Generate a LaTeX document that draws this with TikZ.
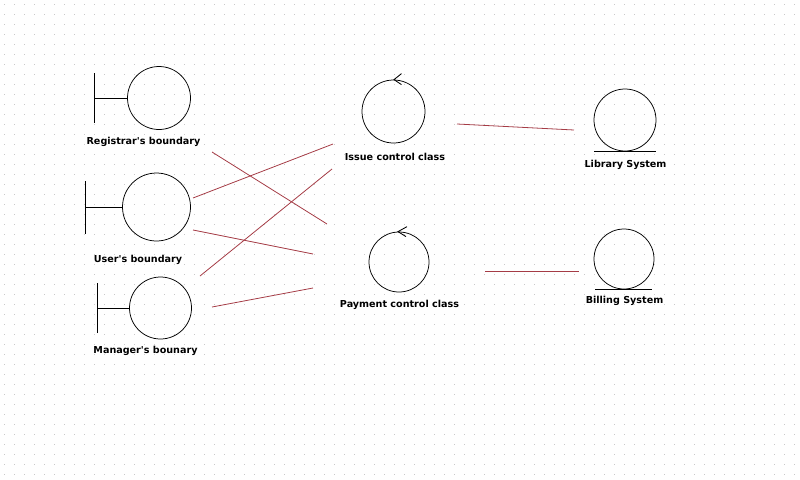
\documentclass[tikz,border=0pt]{standalone}
\usepackage{fontspec}
\setsansfont{DejaVu Sans}
\usepackage{tikz}
\usetikzlibrary{positioning}

\definecolor{linkred}{RGB}{165,60,70}
\definecolor{griddot}{RGB}{200,200,200}

\begin{document}
\begin{tikzpicture}[
        x=1pt, y=-1pt,
        obj/.style={circle, draw, line width=0.75pt, inner sep=0pt},
        lbl/.style={font=\sffamily\bfseries\fontsize{9.6}{11}\selectfont, inner sep=0pt},
        link/.style={draw=linkred, line width=0.8pt},
        sym/.style={line width=0.85pt}
    ]
        \useasboundingbox (0,0) rectangle (800,479);

        % dotted background
        \foreach \i in {0,...,79} {
            \foreach \j in {0,...,47} {
                \fill[griddot] (\i*10+4,\j*10+4) rectangle ++(1,1);
            }
        }

        % Define nodes
        \node (reg) [obj, minimum size=63pt] at (159,98) {};
        \node (usr) [obj, minimum size=68pt] at (156.5,207) {};
        \node (mgr) [obj, minimum size=62pt] at (160.5,308) {};
        \node (issue) [obj, minimum size=63pt] at (393.5,111.5) {};
        \node (pay) [obj, minimum size=60pt] at (399,262) {};
        \node (lib) [obj, minimum size=62pt] at (625,120) {};
        \node (bill) [obj, minimum size=60pt] at (624,259) {};

        \node (reg_label) [lbl] at (143.5,142) {Registrar\textquotesingle s boundary};
        \node (usr_label) [lbl] at (138,260) {User\textquotesingle s boundary};
        \node (mgr_label) [lbl] at (145.5,351) {Manager\textquotesingle s bounary};
        \node (issue_label) [lbl] at (395,157) {Issue control class};
        \node (pay_label) [lbl] at (399.5,305) {Payment control class};
        \node (lib_label) [lbl] at (625.5,165) {Library System};
        \node (bill_label) [lbl] at (624.5,301) {Billing System};

        % boundary symbols
        \draw [sym] (reg.west) -- ++(-32.5,0) coordinate (reg_bar);
        \draw [sym] ([yshift=-25pt]reg_bar) -- ([yshift=25pt]reg_bar);
        \draw [sym] (usr.west) -- ++(-36.5,0) coordinate (usr_bar);
        \draw [sym] ([yshift=-26.5pt]usr_bar) -- ([yshift=26.5pt]usr_bar);
        \draw [sym] (mgr.west) -- ++(-31.5,0) coordinate (mgr_bar);
        \draw [sym] ([yshift=-25pt]mgr_bar) -- ([yshift=25pt]mgr_bar);

        % control arrowheads
        \draw [sym] ([shift={(8,-6)}]issue.north) -- ([shift={(0.5,0)}]issue.north) -- ([shift={(8,5)}]issue.north);
        \draw [sym] ([shift={(8,-5)}]pay.north) -- ([shift={(-1,0)}]pay.north) -- ([shift={(7,5)}]pay.north);

        % entity underlines
        \draw [sym] ([xshift=-31pt]lib.south) -- ([xshift=31pt]lib.south);
        \draw [sym] ([xshift=-29pt]bill.south) -- ([xshift=28pt]bill.south);

        % link ends
        \coordinate (reg_out) at (212,152);
        \coordinate (usr_out1) at (193,198);
        \coordinate (usr_out2) at (193,230);
        \coordinate (mgr_out1) at (200,276);
        \coordinate (mgr_out2) at (212,307);
        \coordinate (issue_in1) at (333,144);
        \coordinate (issue_in2) at (332,169);
        \coordinate (issue_out) at (457,124);
        \coordinate (pay_in1) at (327,224);
        \coordinate (pay_in2) at (313,254);
        \coordinate (pay_in3) at (313,288);
        \coordinate (pay_out) at (485,271);
        \coordinate (lib_in) at (574,130);
        \coordinate (bill_in) at (579,271);

        % Draw links
        \draw [link] (reg_out) -- (pay_in1);
        \draw [link] (usr_out1) -- (issue_in1);
        \draw [link] (usr_out2) -- (pay_in2);
        \draw [link] (mgr_out1) -- (issue_in2);
        \draw [link] (mgr_out2) -- (pay_in3);
        \draw [link] (issue_out) -- (lib_in);
        \draw [link] (pay_out) -- (bill_in);
    \end{tikzpicture}
\end{document}
